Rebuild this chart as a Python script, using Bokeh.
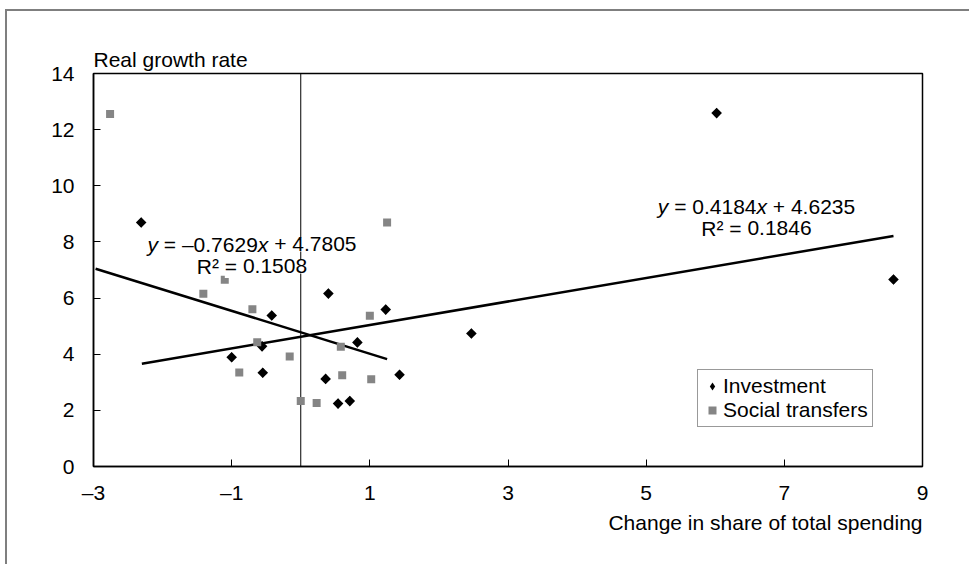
import numpy as np
from bokeh.plotting import figure
from bokeh.models import FixedTicker, Span, Label, Legend, LegendItem, Title
from bokeh.embed import file_html
from bokeh.resources import INLINE

FONT = "Liberation Sans"
FS = 21  # text size in px

# Investment: change in share of total spending vs real growth rate
inv_x = [-2.31, -1.00, -0.55, -0.56, -0.42, 0.36, 0.40, 0.54, 0.71, 0.82, 1.23, 1.43, 2.47, 6.02, 8.58]
inv_y = [8.69, 3.89, 3.34, 4.28, 5.38, 3.12, 6.16, 2.24, 2.33, 4.42, 5.59, 3.27, 4.74, 12.59, 6.66]

# Social transfers
soc_x = [-2.76, -1.41, -1.10, -0.89, -0.70, -0.63, -0.16, 0.00, 0.23, 0.58, 0.60, 1.00, 1.02, 1.25]
soc_y = [12.56, 6.15, 6.65, 3.35, 5.60, 4.43, 3.92, 2.33, 2.26, 4.27, 3.25, 5.37, 3.11, 8.69]

# Linear trend lines (slope, intercept, R squared) and the x span each covers
inv_slope, inv_intercept, inv_r2 = 0.4184, 4.6235, 0.1846
soc_slope, soc_intercept, soc_r2 = -0.7629, 4.7805, 0.1508
inv_fit_span = [-2.30, 8.58]
soc_fit_span = [-2.97, 1.25]

x_ticks = [-3, -1, 1, 3, 5, 7, 9]
y_ticks = [0, 2, 4, 6, 8, 10, 12, 14]

p = figure(width=964, height=555, x_range=(-3, 9), y_range=(0, 14),
           output_backend="svg", toolbar_location=None,
           min_border_left=86, min_border_right=49,
           min_border_top=62, min_border_bottom=100)
p.styles = {"margin-left": "5px", "margin-top": "9px",
            "border-left": "2px solid #7f7f7f", "border-top": "2px solid #7f7f7f"}
p.background_fill_color = "white"
p.border_fill_color = "white"
p.outline_line_color = "black"
p.outline_line_width = 1.5
p.xgrid.visible = False
p.ygrid.visible = False

for ax in (p.xaxis[0], p.yaxis[0]):
    ax.axis_line_color = "black"
    ax.axis_line_width = 1.5
    ax.major_tick_line_color = "black"
    ax.major_tick_in = 7
    ax.major_tick_out = 0
    ax.minor_tick_line_color = None
    ax.major_label_text_font = FONT
    ax.major_label_text_font_size = f"{FS}px"
    ax.major_label_text_color = "black"

def dash_label(v):
    return ("\u2013" + str(abs(v))) if v < 0 else str(v)

p.xaxis.ticker = FixedTicker(ticks=x_ticks)
p.yaxis.ticker = FixedTicker(ticks=y_ticks)
p.xaxis.major_label_overrides = {v: dash_label(v) for v in x_ticks}
p.yaxis.major_label_overrides = {v: dash_label(v) for v in y_ticks}
p.xaxis.major_label_standoff = 14
p.yaxis.major_label_standoff = 19

p.title.text = "Real growth rate"
p.title.align = "left"
p.title.text_font = FONT
p.title.text_font_size = f"{FS}px"
p.title.text_font_style = "normal"
p.title.text_color = "black"
p.title.standoff = 6

p.add_layout(Title(text="Change in share of total spending", align="right",
                   text_font=FONT, text_font_size=f"{FS}px", text_font_style="normal",
                   text_color="black", standoff=4), "below")

# zero reference line behind the markers
p.add_layout(Span(location=0, dimension="height", line_color="black",
                  line_width=1, level="underlay"))

# trend lines
def fit_line(span, slope, intercept):
    xs = np.array(span, dtype=float)
    return xs, slope * xs + intercept

fx, fy = fit_line(inv_fit_span, inv_slope, inv_intercept)
p.line(fx, fy, line_color="black", line_width=2.5)
fx, fy = fit_line(soc_fit_span, soc_slope, soc_intercept)
p.line(fx, fy, line_color="black", line_width=2.5)

# narrow diamonds used as the legend key; fully covered by the data markers below
key_inv = p.scatter(inv_x, inv_y, marker="diamond", size=10,
                    fill_color="black", line_color=None)

# data markers: investment as diamonds (squares turned 45 degrees), transfers as squares
p.scatter(inv_x, inv_y, marker="square", angle=np.pi / 4, size=7.5,
          fill_color="black", line_color=None)
r_soc = p.scatter(soc_x, soc_y, marker="square", size=8,
                  fill_color="#858585", line_color=None)

legend = Legend(items=[LegendItem(label="Investment", renderers=[key_inv]),
                       LegendItem(label="Social transfers", renderers=[r_soc])],
                location=(604, 39), padding=4, spacing=0, margin=0,
                glyph_width=20, glyph_height=24, label_height=24, label_standoff=1,
                label_text_font=FONT, label_text_font_size=f"{FS}px",
                label_text_color="black",
                border_line_color="#333333", border_line_width=1,
                background_fill_color="white", background_fill_alpha=1)
p.add_layout(legend)

# Arial advance widths (em) for the characters used in the equations
ADV = {"0": .556, "1": .556, "2": .556, "3": .556, "4": .556, "5": .556, "6": .556,
       "7": .556, "8": .556, "9": .556, ".": .278, " ": .278, "=": .584, "+": .584,
       "\u2013": .556, "x": .5, "y": .5, "R": .722, "\u00b2": .333}

def width(s):
    return sum(ADV[c] for c in s) * FS

def text_row(xc, yc, pieces):
    """pieces: (text, style, space_before)"""
    total = sum(width(t) + (width(" ") if gap else 0) for t, _, gap in pieces)
    off = -total / 2
    for t, style, gap in pieces:
        if gap:
            off += width(" ")
        p.add_layout(Label(x=xc, y=yc, x_offset=off, text=t, text_font=FONT,
                           text_font_size=f"{FS}px", text_font_style=style,
                           text_align="left", text_baseline="middle",
                           text_color="black", background_fill_color="white"))
        off += width(t)

def fmt(v):
    return ("\u2013" if v < 0 else "") + f"{abs(v):.4f}"

def equation(xc, y1, y2, slope, intercept, r2):
    text_row(xc, y1, [("y", "italic", False), ("= " + fmt(slope), "normal", True),
                      ("x", "italic", False), ("+", "normal", True),
                      (f"{intercept:.4f}", "normal", True)])
    text_row(xc, y2, [("R\u00b2", "normal", False), ("=", "normal", True),
                      (f"{r2:.4f}", "normal", True)])

equation(-0.706, 7.91, 7.125, soc_slope, soc_intercept, soc_r2)
equation(6.597, 9.262, 8.479, inv_slope, inv_intercept, inv_r2)

open("out.html", "w").write(file_html(p, INLINE))
